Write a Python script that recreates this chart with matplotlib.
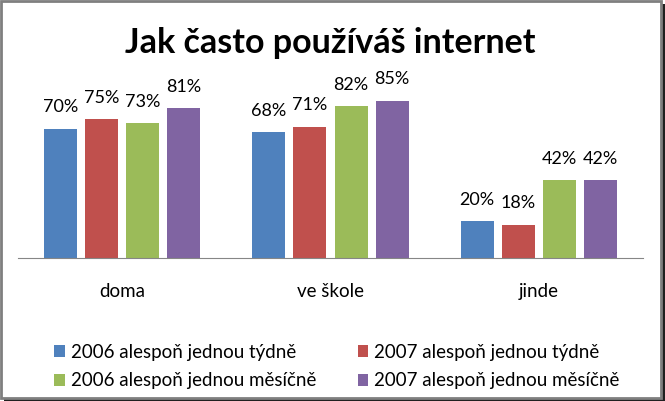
import numpy as np
import matplotlib.pyplot as plt
from matplotlib.patches import Rectangle

categories = ["doma", "ve škole", "jinde"]
series_names = ["2006 alespoň jednou týdně", "2007 alespoň jednou týdně",
                "2006 alespoň jednou měsíčně", "2007 alespoň jednou měsíčně"]
v_2006_tyden = [0.70, 0.68, 0.20]
v_2007_tyden = [0.75, 0.71, 0.18]
v_2006_mesic = [0.73, 0.82, 0.42]
v_2007_mesic = [0.81, 0.85, 0.42]
colors = ["#4F81BD", "#C0504D", "#9BBB59", "#8064A2"]

plt.rcParams['font.family'] = ['Lato', 'DejaVu Sans']

W, H = 665, 401
fig = plt.figure(figsize=(W / 100, H / 100), dpi=100)

# frame with a small shadow (pixel coords from top-left)
def px_rect(x0, y0, x1, y1, **kw):
    return Rectangle((x0 / W, 1 - y1 / H), (x1 - x0) / W, (y1 - y0) / H,
                     transform=fig.transFigure, **kw)

fig.patches.append(px_rect(4, 4, 665, 401, facecolor="#202020", edgecolor="none", zorder=0))
fig.patches.append(px_rect(1, 1, 661, 398, facecolor="white", edgecolor="#7f7f7f",
                           linewidth=2, zorder=1))

ax = fig.add_axes([18 / W, (H - 258) / H, 625 / W, 185 / H])
ax.set_zorder(2)
ax.patch.set_alpha(0)

series = [v_2006_tyden, v_2007_tyden, v_2006_mesic, v_2007_mesic]
x = np.arange(len(categories))
bw = 33 / 208
step = 41 / 208
handles = []
for i, vals in enumerate(series):
    pos = x + (i - 1.5) * step
    bars = ax.bar(pos, vals, width=bw, color=colors[i], label=series_names[i])
    handles.append(bars)
    for b, v in zip(bars, vals):
        ax.text(b.get_x() + b.get_width() / 2, v + 0.072, f"{int(round(v * 100))}%",
                ha="center", va="bottom", fontsize=13)

ax.set_xlim(-0.5, 2.5)
ax.set_ylim(0, 1)
ax.set_yticks([])
ax.set_xticks(x)
ax.set_xticklabels(categories, fontsize=13.5)
ax.tick_params(axis="x", length=0, pad=18)
for s in ["top", "left", "right"]:
    ax.spines[s].set_visible(False)
ax.spines["bottom"].set_color("#868686")

fig.text(330 / W, 1 - 53 / H, "Jak často používáš internet", ha="center", va="baseline",
         fontsize=24.5, fontweight="bold")

# legend is filled column by column, reorder so rows read like the original
order = [0, 2, 1, 3]
leg = fig.legend([handles[k] for k in order], [series_names[k] for k in order],
                 loc="center left", bbox_to_anchor=(54 / W, 1 - 366.5 / H), ncol=2, frameon=False,
                 fontsize=13.5, handlelength=0.58, handleheight=0.58, handletextpad=0.32,
                 columnspacing=2.2, labelspacing=0.62, borderpad=0, borderaxespad=0)

fig.savefig("out.png", dpi=100)
